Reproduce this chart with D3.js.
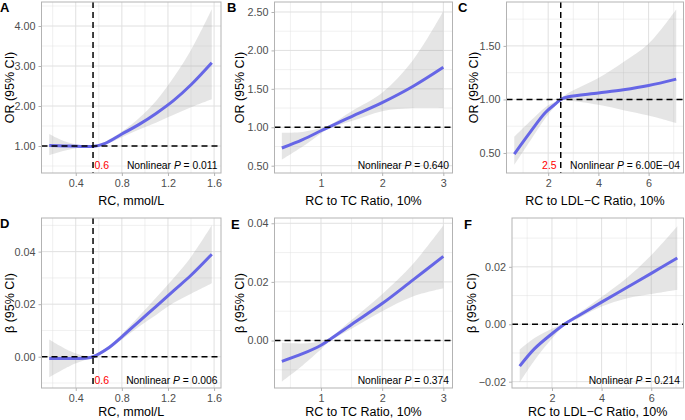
<!DOCTYPE html>
<html>
<head>
<meta charset="utf-8">
<script src="https://cdn.jsdelivr.net/npm/d3@7"></script>
<style>
body { margin: 0; background: #fff; }
text { font-family: "Liberation Sans", Arial, Helvetica, sans-serif; }
</style>
</head>
<body>
<script>
// ---- data ----
const panelLetters = ["A", "B", "C", "D", "E", "F"];
const xTitles = ["RC, mmol/L", "RC to TC Ratio, 10%", "RC to LDL\u2212C Ratio, 10%",
                 "RC, mmol/L", "RC to TC Ratio, 10%", "RC to LDL\u2212C Ratio, 10%"];
const yTitles = ["OR (95% CI)", "OR (95% CI)", "OR (95% CI)",
                 "\u03b2 (95% CI)", "\u03b2 (95% CI)", "\u03b2 (95% CI)"];
const pValues = ["0.011", "0.640", "6.00E\u221204", "0.006", "0.374", "0.214"];
const refY = [1, 1, 1, 0, 0, 0];
const cutX = [0.55, null, 2.5, 0.55, null, null];
const cutLabels = ["0.6", null, "2.5", "0.6", null, null];

// A: OR vs RC
const aX   = [0.17, 0.30, 0.45, 0.55, 0.65, 0.80, 0.95, 1.10, 1.25, 1.40, 1.58];
const aFit = [1.01, 1.00, 0.99, 0.99, 1.06, 1.30, 1.54, 1.82, 2.14, 2.53, 3.08];
const aLow = [0.77, 0.88, 0.96, 0.98, 1.03, 1.22, 1.41, 1.59, 1.78, 1.97, 2.17];
const aUp  = [1.30, 1.12, 1.02, 1.00, 1.10, 1.36, 1.70, 2.14, 2.72, 3.40, 4.42];
// B: OR vs RC/TC
const bX   = [0.36, 0.70, 1.00, 1.12, 1.50, 2.00, 2.50, 3.00];
const bFit = [0.73, 0.84, 0.955, 1.00, 1.14, 1.32, 1.53, 1.78];
const bLow = [0.58, 0.75, 0.92, 0.98, 1.08, 1.21, 1.25, 1.25];
const bUp  = [0.93, 0.94, 0.99, 1.02, 1.21, 1.45, 1.87, 2.51];
// C: OR vs RC/LDL-C
const cX   = [0.65, 1.3, 1.9, 2.3, 2.5, 2.8, 4.0, 5.0, 6.0, 7.1];
const cFit = [0.49, 0.70, 0.88, 0.96, 1.00, 1.025, 1.06, 1.09, 1.13, 1.19];
const cLow = [0.39, 0.62, 0.83, 0.94, 0.99, 0.99, 0.95, 0.90, 0.85, 0.78];
const cUp  = [0.65, 0.80, 0.93, 0.98, 1.01, 1.06, 1.20, 1.35, 1.52, 1.84];
// D: beta vs RC
const dX   = [0.17, 0.35, 0.50, 0.55, 0.67, 0.80, 0.95, 1.10, 1.25, 1.40, 1.58];
const dFit = [-0.0007, -0.0007, -0.0005, 0.0, 0.0029, 0.0076, 0.0135, 0.0193, 0.0252, 0.031, 0.039];
const dLow = [-0.0078, -0.0035, -0.001, -0.0004, 0.0022, 0.0066, 0.0115, 0.0160, 0.0205, 0.024, 0.028];
const dUp  = [0.0066, 0.0022, 0.0001, 0.0004, 0.0036, 0.0086, 0.0155, 0.0226, 0.030, 0.038, 0.050];
// E: beta vs RC/TC
const eX   = [0.36, 0.70, 1.00, 1.12, 1.50, 2.00, 2.50, 3.00];
const eFit = [-0.0071, -0.0045, -0.0016, 0.0, 0.0055, 0.0126, 0.0206, 0.0287];
const eLow = [-0.0140, -0.0085, -0.0030, -0.0006, 0.0040, 0.0100, 0.0150, 0.0178];
const eUp  = [-0.0008, -0.0010, -0.0003, 0.0006, 0.0070, 0.0158, 0.0260, 0.0392];
// F: beta vs RC/LDL-C
const fX   = [0.70, 1.3, 2.0, 2.5, 3.0, 4.0, 5.0, 6.0, 7.05];
const fFit = [-0.0146, -0.0085, -0.0033, 0.0, 0.0026, 0.0077, 0.0127, 0.0177, 0.0231];
const fLow = [-0.0202, -0.0125, -0.0050, -0.0005, 0.0018, 0.0062, 0.0090, 0.0105, 0.0120];
const fUp  = [-0.0088, -0.0048, -0.0016, 0.0005, 0.0034, 0.0095, 0.0160, 0.0240, 0.0341];

// axes
const xDomains = [[0.103, 1.66], [0.24, 3.15], [0.34, 7.39], [0.103, 1.66], [0.24, 3.15], [0.39, 7.3]];
const yDomains = [[0.325, 4.6], [0.405, 2.63], [0.313, 1.91], [-0.0119, 0.0528], [-0.0162, 0.0418], [-0.0222, 0.037]];
const xTicks = [[0.4, 0.8, 1.2, 1.6], [1, 2, 3], [2, 4, 6], [0.4, 0.8, 1.2, 1.6], [1, 2, 3], [2, 4, 6]];
const xMinor = [[0.2, 0.6, 1.0, 1.4], [0.5, 1.5, 2.5], [1, 3, 5, 7], [0.2, 0.6, 1.0, 1.4], [0.5, 1.5, 2.5], [1, 3, 5, 7]];
const yTicks = [[1, 2, 3, 4], [0.5, 1, 1.5, 2, 2.5], [0.5, 1, 1.5], [0, 0.02, 0.04], [0, 0.02, 0.04], [-0.02, 0, 0.02]];
const yMinor = [[0.5, 1.5, 2.5, 3.5, 4.5], [0.75, 1.25, 1.75, 2.25], [0.75, 1.25, 1.75],
                [-0.01, 0.01, 0.03, 0.05], [-0.01, 0.01, 0.03], [-0.01, 0.01, 0.03]];
const xFormats = [".1f", "d", "d", ".1f", "d", "d"];

const series = [
  [aX, aFit, aLow, aUp], [bX, bFit, bLow, bUp], [cX, cFit, cLow, cUp],
  [dX, dFit, dLow, dUp], [eX, eFit, eLow, eUp], [fX, fFit, fLow, fUp]
];

// ---- layout ----
const layout = [
  { left: 41.5, right: 221, top: 2, bottom: 173, titleX: 14, titleY: 204.5, letterX: 0, letterY: 11.5, cutSide: 1 },
  { left: 274.5, right: 452.5, top: 2, bottom: 173, titleX: 244, titleY: 204.5, letterX: 227, letterY: 11.5 },
  { left: 506.5, right: 683.5, top: 2, bottom: 173, titleX: 478, titleY: 204.5, letterX: 458, letterY: 11.5, cutSide: -1 },
  { left: 41.5, right: 221, top: 218, bottom: 388, titleX: 14, titleY: 415.5, letterX: 0, letterY: 228, cutSide: 1 },
  { left: 274.5, right: 452.5, top: 218, bottom: 388, titleX: 244, titleY: 415.5, letterX: 231, letterY: 229 },
  { left: 512, right: 683.5, top: 218, bottom: 388, titleX: 476, titleY: 415.5, letterX: 464, letterY: 229 }
];

const svg = d3.select("body").append("svg")
    .attr("width", 685)
    .attr("height", 420)
    .style("background", "#fff");

const gridCol = "#e0e0e0";
const axisText = "#4d4d4d";
const lineCol = "#6666e6";
const smooth = d3.curveCatmullRom.alpha(0.5);

function drawPanel(i) {
  const L = layout[i];
  const [xs, fit, lo, up] = series[i];
  const x = d3.scaleLinear().domain(xDomains[i]).range([L.left, L.right]);
  const y = d3.scaleLinear().domain(yDomains[i]).range([L.bottom, L.top]);
  const g = svg.append("g");

  g.append("clipPath").attr("id", "clip" + i)
    .append("rect").attr("x", L.left).attr("y", L.top)
    .attr("width", L.right - L.left).attr("height", L.bottom - L.top);

  // grid
  g.selectAll(".vmin").data(xMinor[i]).join("line")
    .attr("x1", d => x(d)).attr("x2", d => x(d)).attr("y1", L.top).attr("y2", L.bottom)
    .attr("stroke", gridCol).attr("stroke-width", 0.5);
  g.selectAll(".hmin").data(yMinor[i].filter(d => y(d) > L.top && y(d) < L.bottom)).join("line")
    .attr("y1", d => y(d)).attr("y2", d => y(d)).attr("x1", L.left).attr("x2", L.right)
    .attr("stroke", gridCol).attr("stroke-width", 0.5);
  g.selectAll(".vmaj").data(xTicks[i]).join("line")
    .attr("x1", d => x(d)).attr("x2", d => x(d)).attr("y1", L.top).attr("y2", L.bottom)
    .attr("stroke", gridCol).attr("stroke-width", 1);
  g.selectAll(".hmaj").data(yTicks[i]).join("line")
    .attr("y1", d => y(d)).attr("y2", d => y(d)).attr("x1", L.left).attr("x2", L.right)
    .attr("stroke", gridCol).attr("stroke-width", 1);

  const pts = xs.map((v, k) => ({ x: v, fit: fit[k], lo: lo[k], up: up[k] }));
  const plot = g.append("g").attr("clip-path", "url(#clip" + i + ")");

  plot.append("path").datum(pts)
    .attr("d", d3.area().x(d => x(d.x)).y0(d => y(d.lo)).y1(d => y(d.up)).curve(smooth))
    .attr("fill", "#999").attr("fill-opacity", 0.25);

  plot.append("path").datum(pts)
    .attr("d", d3.line().x(d => x(d.x)).y(d => y(d.fit)).curve(smooth))
    .attr("fill", "none").attr("stroke", lineCol).attr("stroke-width", 3);

  // reference lines
  plot.append("line")
    .attr("x1", L.left).attr("x2", L.right).attr("y1", y(refY[i])).attr("y2", y(refY[i]))
    .attr("stroke", "#000").attr("stroke-width", 1.5).attr("stroke-dasharray", "6,4");
  if (cutX[i] != null) {
    plot.append("line")
      .attr("x1", x(cutX[i])).attr("x2", x(cutX[i])).attr("y1", L.top).attr("y2", L.bottom)
      .attr("stroke", "#000").attr("stroke-width", 1.5).attr("stroke-dasharray", "6,4");
    g.append("text")
      .attr("x", x(cutX[i]) + (L.cutSide > 0 ? 1.5 : -4))
      .attr("y", L.bottom - 4)
      .attr("text-anchor", L.cutSide > 0 ? "start" : "end")
      .attr("fill", "#ff0000").style("font-size", "10.5px")
      .text(cutLabels[i]);
  }

  const pt = g.append("text")
    .attr("x", L.right - 3.5).attr("y", L.bottom - 4)
    .attr("text-anchor", "end").style("font-size", "10.3px").attr("fill", "#000");
  pt.append("tspan").text("Nonlinear ");
  pt.append("tspan").style("font-style", "italic").text("P");
  pt.append("tspan").text(" = " + pValues[i]);

  // border
  g.append("rect")
    .attr("x", L.left).attr("y", L.top)
    .attr("width", L.right - L.left).attr("height", L.bottom - L.top)
    .attr("fill", "none").attr("stroke", "#b3b3b3").attr("stroke-width", 1);

  // axes
  const xa = g.append("g").attr("transform", `translate(0,${L.bottom})`)
    .call(d3.axisBottom(x).tickValues(xTicks[i]).tickFormat(d3.format(xFormats[i])).tickSize(3).tickPadding(3));
  const ya = g.append("g").attr("transform", `translate(${L.left},0)`)
    .call(d3.axisLeft(y).tickValues(yTicks[i]).tickFormat(d3.format(".2f")).tickSize(3).tickPadding(3));
  [xa, ya].forEach(a => {
    a.select(".domain").remove();
    a.selectAll("line").attr("stroke", "#b3b3b3");
    a.selectAll("text").attr("fill", axisText)
      .style("font-size", "10.8px").style("font-family", '"Liberation Sans", Arial, sans-serif');
  });

  // titles
  g.append("text")
    .attr("x", (L.left + L.right) / 2).attr("y", L.titleY)
    .attr("text-anchor", "middle").style("font-size", "12.5px").attr("fill", "#000")
    .text(xTitles[i]);
  g.append("text")
    .attr("transform", `translate(${L.titleX},${(L.top + L.bottom) / 2}) rotate(-90)`)
    .attr("text-anchor", "middle").style("font-size", "12.5px").attr("fill", "#000")
    .text(yTitles[i]);

  g.append("text")
    .attr("x", L.letterX).attr("y", L.letterY)
    .style("font-size", "13px").style("font-weight", "bold").attr("fill", "#000")
    .text(panelLetters[i]);
}

d3.range(6).forEach(drawPanel);
</script>
</body>
</html>
